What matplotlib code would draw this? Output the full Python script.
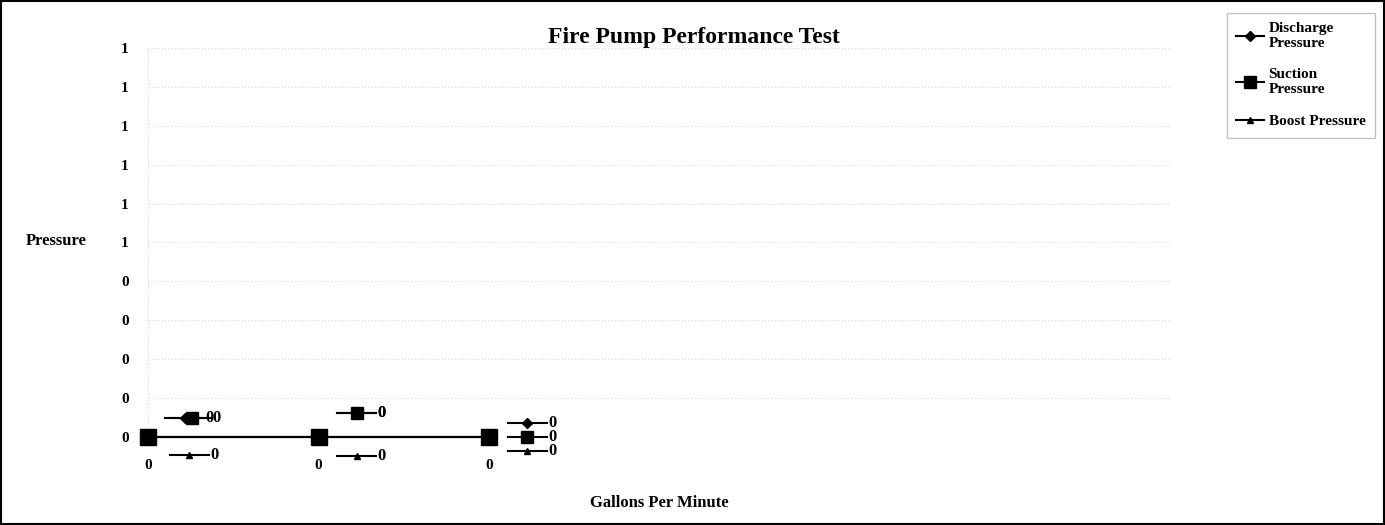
import matplotlib.pyplot as plt
import numpy as np
from matplotlib.lines import Line2D
from matplotlib.offsetbox import AnnotationBbox, DrawingArea, TextArea, HPacker
from matplotlib.ticker import FuncFormatter, MultipleLocator
from matplotlib.patches import Rectangle

#DATA-------------------
categories = ["0", "0", "0"]
discharge = [0, 0, 0]
suction = [0, 0, 0]
boost = [0, 0, 0]
series_names = ["Discharge\nPressure", "Suction\nPressure", "Boost Pressure"]
title = "Fire Pump Performance Test"
xlabel = "Gallons Per Minute"
ylabel = "Pressure"
#------------------------

plt.rcParams.update({'font.family': ['Liberation Serif', 'DejaVu Serif'],
                     'font.weight': 'bold', 'font.size': 11})

fig = plt.figure(figsize=(13.85, 5.25), dpi=100)
ax = fig.add_axes([0.1069, 0.1676, 0.7385, 0.741])

x = np.arange(len(categories))
styles = [dict(marker='D', markersize=7),
          dict(marker='s', markersize=12),
          dict(marker='^', markersize=7)]
data = [discharge, suction, boost]
zorders = [3, 5, 4]
for vals, st, name, z in zip(data, styles, series_names, zorders):
    ax.plot(x, vals, color='black', linewidth=1.5, label=name, zorder=z,
            clip_on=False, **st)

ax.set_xlim(0, 6)
ax.set_ylim(0, 1)
ax.yaxis.set_major_locator(MultipleLocator(0.1))
# excel-style rounding, 0.5 -> 1
ax.yaxis.set_major_formatter(FuncFormatter(lambda v, p: str(int(np.floor(v + 0.5 + 1e-9)))))
ax.set_xticks(x)
ax.set_xticklabels(categories)
ax.tick_params(axis='y', length=0, labelsize=11, pad=14)
ax.tick_params(axis='x', length=0, labelsize=11, pad=16)
for s in ax.spines.values():
    s.set_visible(False)
ax.grid(axis='y', linestyle=(0, (1, 3)), linewidth=0.6, color='0.75')
ax.axvline(0, linestyle=(0, (1, 3)), linewidth=0.6, color='0.75')

ax.set_title(title, fontsize=17, fontweight='bold', pad=0, x=0.534)
ax.set_xlabel(xlabel, fontsize=12, fontweight='bold')
ax.xaxis.set_label_coords(0.5, -0.15)
ax.set_ylabel(ylabel, fontsize=12, fontweight='bold', rotation=0, va='center')
ax.yaxis.set_label_coords(-0.09, 0.505)


def data_label(xi, yi, si, dx, dy, txt):
    da = DrawingArea(28, 10, 0, 0)
    da.add_artist(Line2D([0, 28], [5, 5], color='black', linewidth=1.5))
    st = styles[si]
    da.add_artist(Line2D([14], [5], color='black', marker=st['marker'],
                         markersize=st['markersize'] * 0.7))
    ta = TextArea(txt, textprops=dict(fontsize=12, fontweight='bold'))
    box = HPacker(children=[da, ta], align='center', pad=0, sep=1)
    ab = AnnotationBbox(box, (xi, yi), xybox=(dx, dy), xycoords='data',
                        boxcoords='offset points', frameon=False, pad=0,
                        annotation_clip=False)
    ax.add_artist(ab)


# labels near each point (offsets in points)
data_label(x[0], discharge[0], 0, 30, 14, str(discharge[0]))
data_label(x[0], suction[0], 1, 35, 14, str(suction[0]))
data_label(x[0], boost[0], 2, 33, -13, str(boost[0]))
data_label(x[1], discharge[1], 0, 31, 17, str(discharge[1]))
data_label(x[1], suction[1], 1, 31, 17, str(suction[1]))
data_label(x[1], boost[1], 2, 31, -14, str(boost[1]))
data_label(x[2], discharge[2], 0, 31, 10, str(discharge[2]))
data_label(x[2], suction[2], 1, 31, 0, str(suction[2]))
data_label(x[2], boost[2], 2, 31, -10, str(boost[2]))

leg = fig.legend(loc='upper right', bbox_to_anchor=(0.998, 0.99), fontsize=11,
                 frameon=True, edgecolor='0.7', fancybox=False,
                 handlelength=1.8, handletextpad=0.3, labelspacing=1.2,
                 borderpad=0.6, markerscale=0.7)
for t in leg.get_texts():
    t.set_fontweight('bold')

fig.patches.append(Rectangle((0.001, 0.002), 0.998, 0.996, transform=fig.transFigure,
                             fill=False, edgecolor='black', linewidth=1.5))
plt.savefig('out.png', dpi=100)
